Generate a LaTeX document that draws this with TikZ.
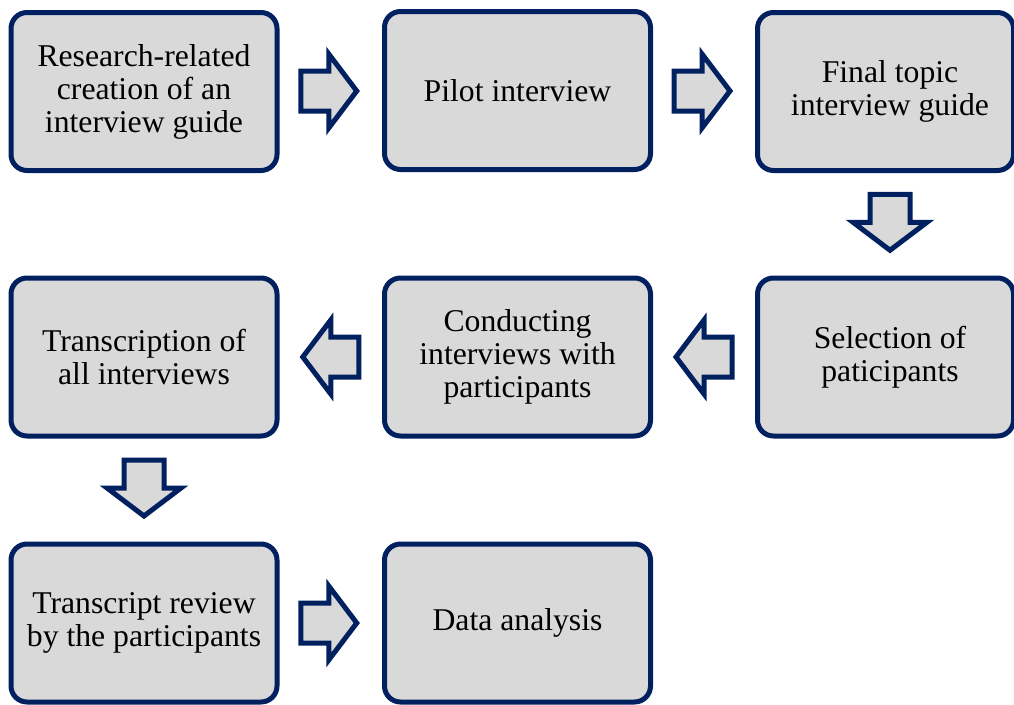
\documentclass[tikz,border=0pt]{standalone}
\usepackage{fontspec}
\setmainfont{Liberation Serif}
\usetikzlibrary{calc}
\definecolor{navy}{HTML}{002060}
\definecolor{boxfill}{HTML}{D9D9D9}
\begin{document}
\begin{tikzpicture}[x=1pt,y=-1pt,
  stepbox/.style={draw=navy, fill=boxfill, line width=5pt, rounded corners=16pt,
    minimum width=266pt, minimum height=158pt, align=center, inner sep=0pt,
    font=\fontsize{31.7}{33}\selectfont},
  blockarrow/.pic={
    \draw[draw=navy, fill=boxfill, line width=5pt, line join=miter]
      (-28,-20) -- (0,-20) -- (0,-37) -- (28,0) -- (0,37) -- (0,20) -- (-28,20) -- cycle;
  }]
  \useasboundingbox (0,0) rectangle (1014,704);

  % process steps
  \node[stepbox] (n1) at (144,91.5)   {Research-related\\creation of an\\interview guide};
  \node[stepbox] (n2) at (517.5,90.5) {Pilot interview};
  \node[stepbox, minimum width=256pt] (n3) at (885.5,91.5)
    {\hspace*{9pt}Final topic\\\hspace*{9pt}interview guide};
  \node[stepbox, minimum width=256pt] (n4) at (885.5,357)
    {\hspace*{9pt}Selection of\\\hspace*{9pt}paticipants};
  \node[stepbox] (n5) at (517.5,357)  {Conducting\\interviews with\\participants};
  \node[stepbox] (n6) at (144,357)    {Transcription of\\all interviews};
  \node[stepbox] (n7) at (144,623)  {Transcript review\\by the participants};
  \node[stepbox] (n8) at (517.5,623) {Data analysis};

  % block arrows between steps
  \pic at ($(n1.east)!0.5!(n2.west)+(-2,0)$) {blockarrow};
  \pic at ($(n2.east)!0.5!(n3.west)+(-2,0)$) {blockarrow};
  \pic[rotate=-90] at ($(n3.south)!0.5!(n4.north)+(4.5,-2)$) {blockarrow};
  \pic[rotate=180] at ($(n4.west)!0.5!(n5.east)$) {blockarrow};
  \pic[rotate=180] at ($(n5.west)!0.5!(n6.east)$) {blockarrow};
  \pic[rotate=-90] at ($(n6.south)!0.5!(n7.north)+(0,-2)$) {blockarrow};
  \pic at ($(n7.east)!0.5!(n8.west)+(-2,0)$) {blockarrow};
\end{tikzpicture}
\end{document}
